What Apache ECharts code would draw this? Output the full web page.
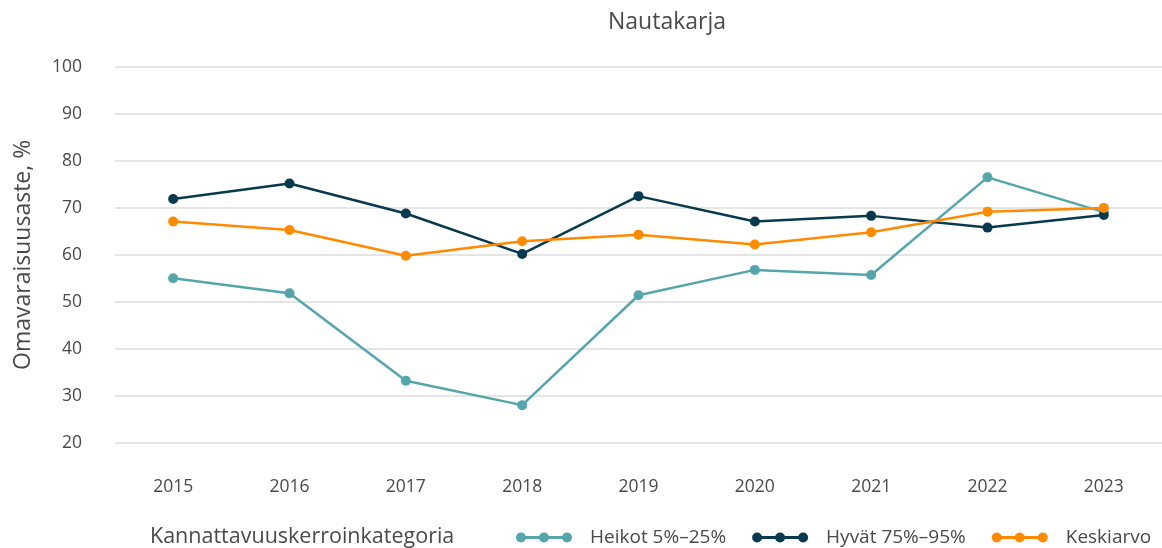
<!DOCTYPE html>
<html>
<head>
<meta charset="utf-8">
<script src="https://cdn.jsdelivr.net/npm/echarts@6/dist/echarts.min.js"></script>
<style>
  html, body { margin: 0; padding: 0; background: #fff; }
  #chart { width: 1162px; height: 548px; }
</style>
</head>
<body>
<div id="chart"></div>
<script>
// Omavaraisuusaste (%) by kannattavuuskerroin category, nautakarja
const years = ['2015', '2016', '2017', '2018', '2019', '2020', '2021', '2022', '2023'];
const heikot = [55.0, 51.8, 33.2, 28.0, 51.4, 56.8, 55.7, 76.5, 69.1];
const hyvat = [71.9, 75.2, 68.8, 60.2, 72.5, 67.1, 68.3, 65.8, 68.5];
const keskiarvo = [67.1, 65.3, 59.8, 62.9, 64.3, 62.2, 64.8, 69.2, 70.0];
const yTicks = { min: 20, max: 100, interval: 10 };

const FONT = '"Open Sans", "Noto Sans", sans-serif';
const TEXT = '#4a4a4a';

// legend symbol: a line through three dots
const dotLine = 'path://M0,5A5,5 0 1,1 10,5A5,5 0 1,1 0,5Z' +
  'M5,3.6L51,3.6L51,6.4L5,6.4Z' +
  'M23,5A5,5 0 1,1 33,5A5,5 0 1,1 23,5Z' +
  'M46,5A5,5 0 1,1 56,5A5,5 0 1,1 46,5Z';

function lineSeries(name, data, color) {
  return {
    name: name,
    type: 'line',
    data: data,
    symbol: 'circle',
    symbolSize: 10,
    lineStyle: { color: color, width: 2.5 },
    itemStyle: { color: color },
    emphasis: { disabled: true },
    animation: false
  };
}

const chart = echarts.init(document.getElementById('chart'), null, { renderer: 'canvas' });
chart.setOption({
  backgroundColor: '#ffffff',
  title: [
    {
      text: 'Nautakarja',
      left: 662, top: 6, textAlign: 'center',
      textStyle: { fontFamily: FONT, fontSize: 23, fontWeight: 'normal', color: TEXT }
    },
    {
      text: 'Kannattavuuskerroinkategoria',
      left: 145, top: 521,
      textStyle: { fontFamily: FONT, fontSize: 21.5, fontWeight: 'normal', color: TEXT }
    }
  ],
  legend: {
    left: 511, top: 523,
    icon: dotLine,
    itemWidth: 56, itemHeight: 10,
    itemGap: 26,
    textStyle: { fontFamily: FONT, fontSize: 19, color: TEXT, padding: [0, 0, 0, 13] },
    data: ['Heikot 5%–25%', 'Hyvät 75%–95%', 'Keskiarvo']
  },
  grid: { left: 115, right: -4, top: 67, bottom: 105.3, containLabel: false },
  xAxis: {
    type: 'category',
    data: years,
    boundaryGap: true,
    axisLine: { show: false },
    axisTick: { show: false },
    axisLabel: { margin: 35, fontFamily: FONT, fontSize: 17.5, color: TEXT }
  },
  yAxis: {
    type: 'value',
    min: yTicks.min, max: yTicks.max, interval: yTicks.interval,
    name: 'Omavaraisuusaste, %',
    nameLocation: 'middle',
    nameGap: 80,
    nameTextStyle: { fontFamily: FONT, fontSize: 23, color: TEXT },
    axisLine: { show: false },
    axisTick: { show: false },
    axisLabel: { margin: 33, fontFamily: FONT, fontSize: 17.5, color: TEXT },
    splitLine: { lineStyle: { color: '#dcdcdc', width: 1.5 } }
  },
  series: [
    lineSeries('Heikot 5%–25%', heikot, '#55a6ac'),
    lineSeries('Hyvät 75%–95%', hyvat, '#073a4e'),
    lineSeries('Keskiarvo', keskiarvo, '#ff8a00')
  ]
});
</script>
</body>
</html>
